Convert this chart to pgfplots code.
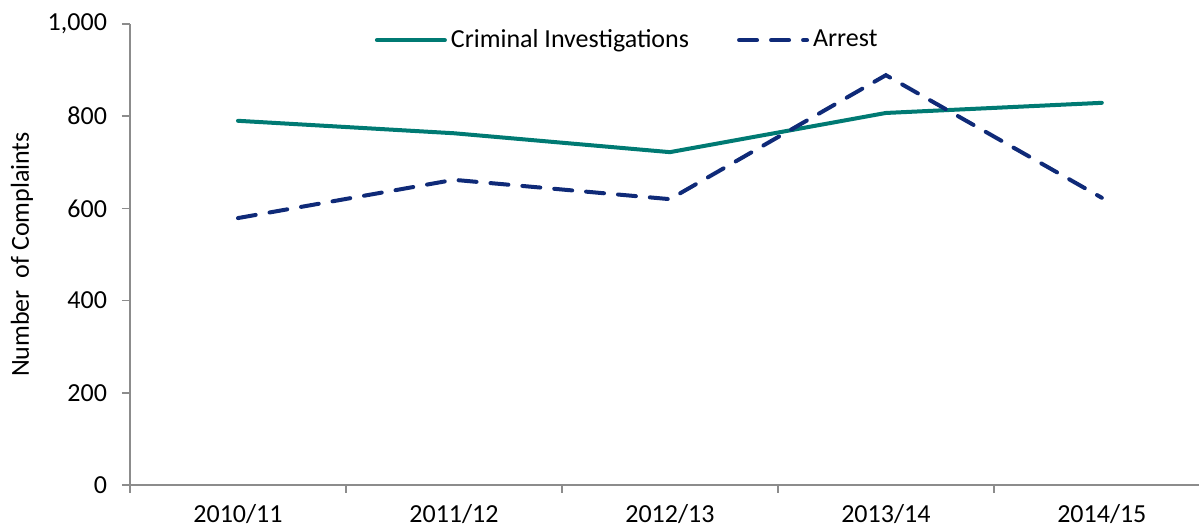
\documentclass[border=0pt]{standalone}
\usepackage{pgfplots}
\pgfplotsset{compat=1.18}
\usepackage{fontspec}
\setmainfont{Carlito}
\definecolor{crimteal}{HTML}{007A73}
\definecolor{arrnavy}{HTML}{0F2A78}
\definecolor{axgray}{HTML}{8C8C8C}
\begin{document}
\fontsize{13}{15}\selectfont
\begin{tikzpicture}
  \begin{axis}[
      scale only axis,
      width=534.5pt, height=230.5pt,
      at={(0,0)}, anchor=south west,
      xmin=-0.5, xmax=4.45,
      ymin=0, ymax=1000,
      axis x line*=bottom, axis y line*=left,
      axis line style={axgray, line width=0.8pt},
      every outer x axis line/.append style={-},
      every outer y axis line/.append style={-},
      xtick={0,1,2,3,4},
      xticklabels={2010/11,2011/12,2012/13,2013/14,2014/15},
      minor xtick={-0.5,0.5,1.5,2.5,3.5,4.5},
      ytick={0,200,400,600,800,1000},
      scaled y ticks=false,
      /pgf/number format/fixed,
      /pgf/number format/1000 sep={,},
      /pgf/number format/assume math mode=true,
      xticklabel style={yshift=-1pt},
      yticklabel style={xshift=-3pt},
      tick align=outside,
      major x tick style={draw=none},
      major y tick style={axgray, line width=0.8pt},
      minor tick style={axgray, line width=0.8pt},
      major tick length=4pt, minor tick length=4pt,
      ylabel={Number\ \ of Complaints},
      ylabel style={at={(axis description cs:-0.101,0.5)}, anchor=center},
      legend columns=2,
      legend style={draw=none, fill=none, at={(0.466,0.965)}, anchor=center,
        /tikz/every even column/.append style={column sep=22pt}},
      legend image code/.code={\draw[#1] (0pt,0pt) -- (34pt,0pt);},
  ]
  \addplot[crimteal, line width=2pt, line cap=round] coordinates {
    (0,790) (1,763) (2,722) (3,807) (4,829)
  };
  \addlegendentry{Criminal Investigations}
  \addplot[arrnavy, line width=2pt, line cap=round, dash pattern=on 9pt off 7pt] coordinates {
    (0,579) (1,662) (2,620) (3,889) (4,623)
  };
  \addlegendentry{Arrest}
  \end{axis}
  \pgfresetboundingbox
  \path (-65pt,-22pt) rectangle (535pt,242.5pt);
\end{tikzpicture}
\end{document}
